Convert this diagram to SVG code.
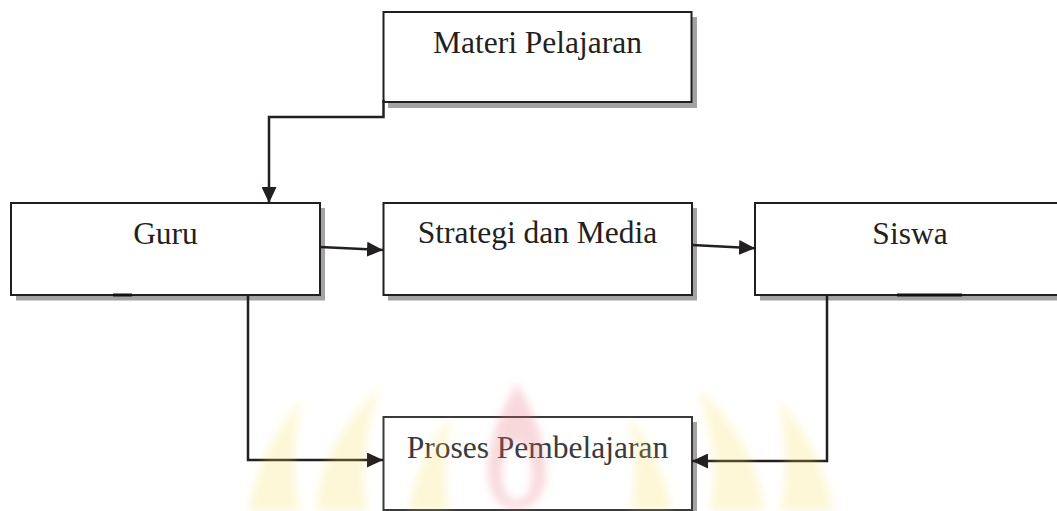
<svg xmlns="http://www.w3.org/2000/svg" width="1057" height="511" viewBox="0 0 1057 511">
<style>
.box{fill:#fff;stroke:#231f20;stroke-width:2}
.shadow{fill:#a3a3a3}
.lbl{font-family:"Liberation Serif","Times New Roman",serif;font-size:31.5px;fill:#231f20;text-anchor:middle}
.conn{fill:none;stroke:#231f20;stroke-width:2.5}
</style>
<defs>
<marker id="arr" viewBox="0 0 16 15" refX="16" refY="7.5" markerWidth="16" markerHeight="15" markerUnits="userSpaceOnUse" orient="auto">
<path d="M0,0 L16,7.5 L0,15 Z" fill="#231f20"/>
</marker>
<filter id="soft" x="-20%" y="-20%" width="140%" height="140%"><feGaussianBlur stdDeviation="4"/></filter>
</defs>
<rect width="1057" height="511" fill="#fff"/>
<g id="materi">
<rect class="shadow" x="388" y="17" width="309" height="91"/>
<rect class="box" x="383.5" y="12" width="308" height="90"/>
<text class="lbl" x="537.5" y="53">Materi Pelajaran</text>
</g>
<g id="guru">
<rect class="shadow" x="16" y="208" width="309" height="92.5"/>
<rect class="box" x="11" y="203" width="309" height="92"/>
<line x1="113" y1="295" x2="132" y2="295" stroke="#111" stroke-width="3"/>
<text class="lbl" x="165.5" y="244">Guru</text>
</g>
<g id="strategi">
<rect class="shadow" x="388" y="208" width="309" height="92.5"/>
<rect class="box" x="383.5" y="203" width="308.5" height="92"/>
<text class="lbl" x="537.5" y="243">Strategi dan Media</text>
</g>
<g id="siswa">
<rect class="shadow" x="760" y="208" width="310" height="92.5"/>
<rect class="box" x="755" y="203" width="310" height="92"/>
<line x1="897" y1="295" x2="962" y2="295" stroke="#111" stroke-width="3"/>
<text class="lbl" x="910" y="244">Siswa</text>
</g>
<g id="proses">
<rect class="shadow" x="388" y="422" width="309" height="92"/>
<rect class="box" x="383.5" y="417" width="308.5" height="93" style="stroke:#3a3a3a"/>
<text class="lbl" x="537.5" y="458" style="fill:#3a3a3a">Proses Pembelajaran</text>
</g>
<g id="connectors">
<polyline class="conn" points="383.5,100 383.5,117 269,117 269,203" marker-end="url(#arr)"/>
<line class="conn" x1="320" y1="247" x2="383" y2="250" marker-end="url(#arr)"/>
<line class="conn" x1="692" y1="245" x2="755" y2="248.3" marker-end="url(#arr)"/>
<polyline class="conn" points="248,295 248,460 383,460" marker-end="url(#arr)"/>
<polyline class="conn" points="827,295 827,461 692,461" marker-end="url(#arr)"/>
</g>
<g id="watermark" filter="url(#soft)">
<g fill="#f7dc4a" opacity="0.22">
<path d="M248,511 Q262,440 302,400 Q288,460 300,511 Z"/>
<path d="M315,511 Q324,436 380,388 Q356,460 368,511 Z"/>
<path d="M408,511 Q418,456 452,416 Q440,470 450,511 Z"/>
<path d="M834,511 Q818,440 778,400 Q792,460 780,511 Z"/>
<path d="M765,511 Q754,436 698,388 Q722,460 710,511 Z"/>
<path d="M672,511 Q662,456 628,416 Q640,470 630,511 Z"/>
</g>
<path fill="#e8707e" opacity="0.27" fill-rule="evenodd" d="M517,383 C532,410 546,440 546,470 C546,496 533,509 517,509 C501,509 488,496 488,470 C488,440 502,410 517,383 Z M517,443 C506,443 502,460 502,476 C502,492 508,500 517,500 C526,500 532,492 532,476 C532,460 528,443 517,443 Z"/>
</g>
</svg>
